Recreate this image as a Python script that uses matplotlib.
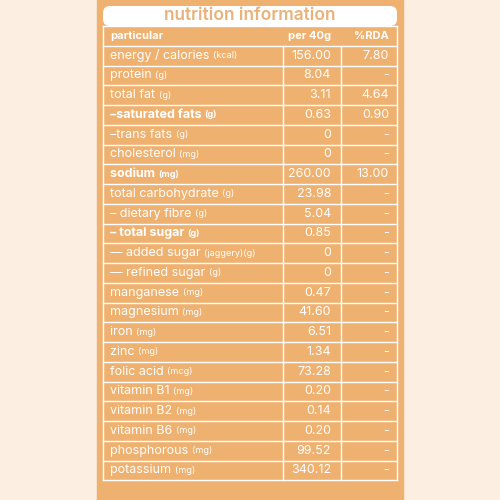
import matplotlib.pyplot as plt
from matplotlib.patches import FancyBboxPatch, Rectangle

names = ["energy / calories", "protein", "total fat", "–saturated fats", "–trans fats",
         "cholesterol", "sodium", "total carbohydrate", "– dietary fibre", "– total sugar",
         "–– added sugar", "–– refined sugar", "manganese", "magnesium", "iron", "zinc",
         "folic acid", "vitamin B1", "vitamin B2", "vitamin B6", "phosphorous", "potassium"]
units = ["(kcal)", "(g)", "(g)", "(g)", "(g)", "(mg)", "(mg)", "(g)", "(g)", "(g)",
         "(jaggery)(g)", "(g)", "(mg)", "(mg)", "(mg)", "(mg)", "(mcg)", "(mg)", "(mg)",
         "(mg)", "(mg)", "(mg)"]
per40 = ["156.00", "8.04", "3.11", "0.63", "0", "0", "260.00", "23.98", "5.04", "0.85",
         "0", "0", "0.47", "41.60", "6.51", "1.34", "73.28", "0.20", "0.14", "0.20",
         "99.52", "340.12"]
rda = ["7.80", "-", "4.64", "0.90", "-", "-", "13.00", "-", "-", "-", "-", "-", "-", "-",
       "-", "-", "-", "-", "-", "-", "-", "-"]
bold = {"–saturated fats", "sodium", "– total sugar"}

orange = "#efb170"
fnt = "Inter"
fig = plt.figure(figsize=(5, 5), dpi=100)
fig.patch.set_facecolor("#fcefe2")
ax = fig.add_axes([0, 0, 1, 1])
ax.set_xlim(0, 500)
ax.set_ylim(500, 0)
ax.axis("off")

ax.add_patch(Rectangle((97, 0), 306, 500, color=orange))
ax.add_patch(FancyBboxPatch((103, 6), 294, 20, boxstyle="round,pad=0,rounding_size=7",
                            fc="white", ec="none"))
ax.text(250, 16, "nutrition information", ha="center", va="center", fontsize=12.5,
        color="#e8b27a", fontweight="semibold", family=fnt)

top = 26
h = 19.75
nrows = len(names) + 1
for i in range(nrows + 1):
    ax.plot([103, 397], [top + i * h, top + i * h], color="white", lw=1)
ax.plot([103, 103], [top, top + nrows * h], color="white", lw=1)
ax.plot([397, 397], [top, top + nrows * h], color="white", lw=1)
ax.plot([341, 341], [top + h, top + nrows * h], color="white", lw=1)
ax.plot([283, 283], [top + h, top + nrows * h], color="white", lw=1)

y0 = top + h / 2
for x, s, ha in [(110, "particular", "left"), (331, "per 40g", "right"), (389, "%RDA", "right")]:
    ax.text(x, y0, s, ha=ha, va="center", color="white", fontsize=8,
            fontweight="bold", family=fnt)

for i, (n, u, p, r) in enumerate(zip(names, units, per40, rda)):
    y = top + (i + 1.5) * h
    w = "bold" if n in bold else "normal"
    t = ax.text(110, y, n + " ", ha="left", va="center", color="white", fontsize=9,
                fontweight=w, family=fnt)
    ax.annotate(u, xycoords=t, xy=(1, 0.5), va="center", ha="left", color="white",
                fontsize=6.5, fontweight=w, family=fnt)
    ax.text(331, y, p, ha="right", va="center", color="white", fontsize=9, family=fnt)
    ax.text(389, y, r, ha="right", va="center", color="white", fontsize=9, family=fnt)

fig.savefig("out.png", dpi=100, facecolor=fig.get_facecolor())
